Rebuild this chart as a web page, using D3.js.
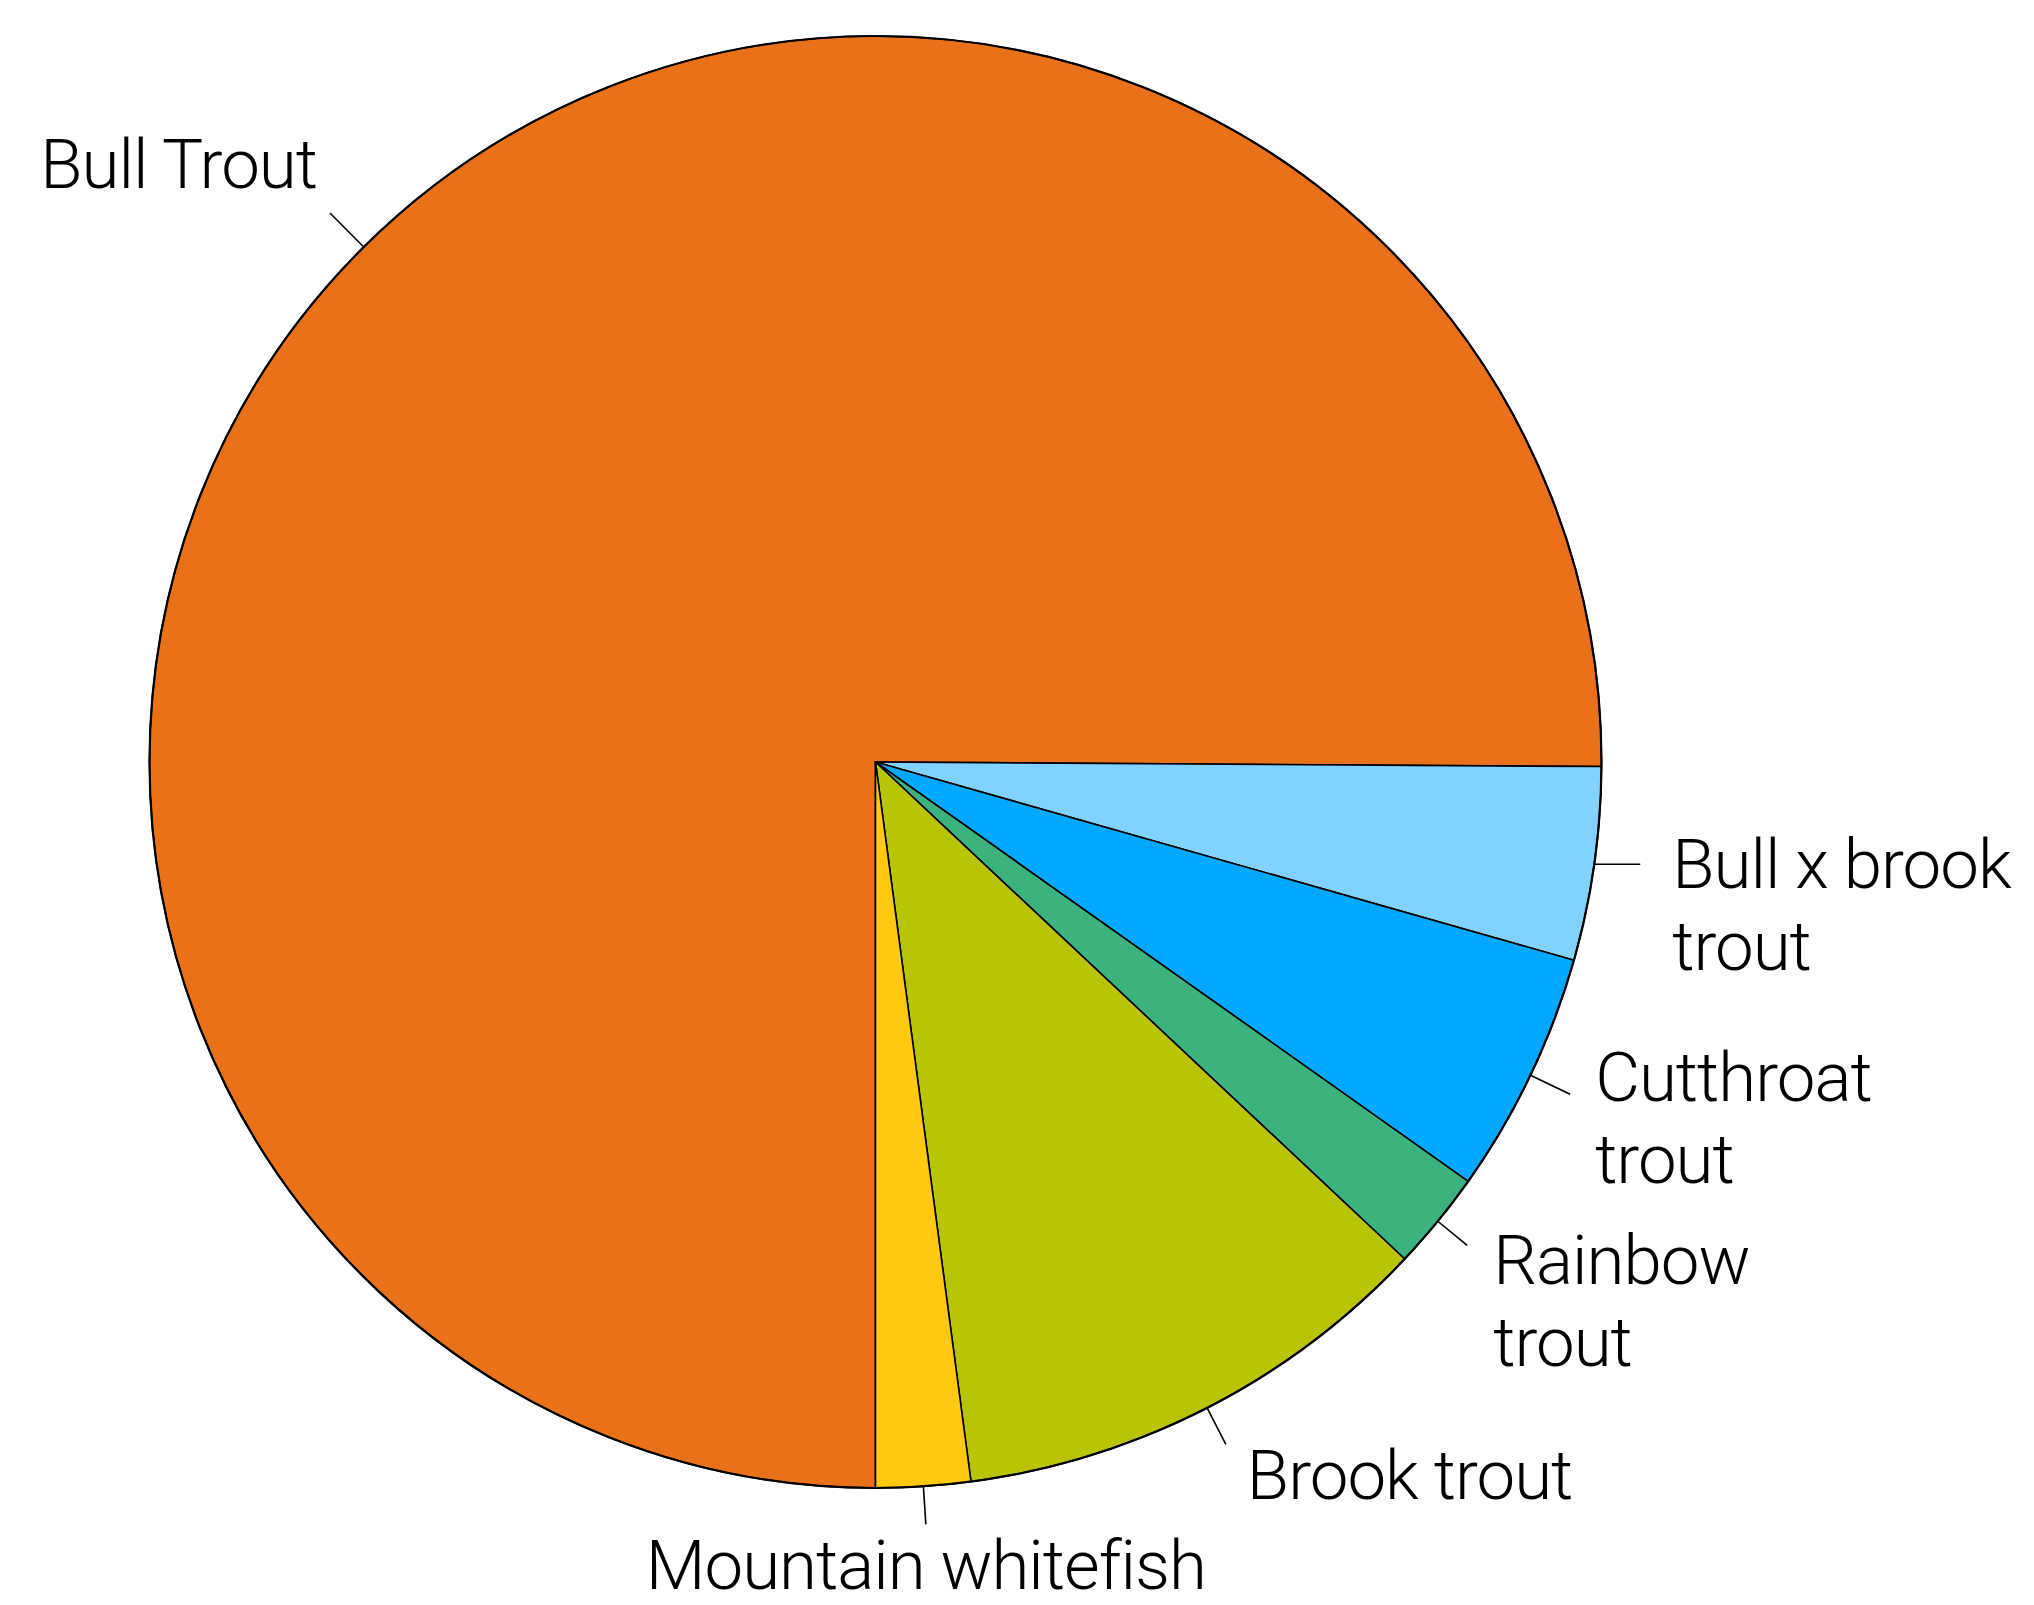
<!DOCTYPE html>
<html>
<head>
<meta charset="utf-8">
<script src="https://cdn.jsdelivr.net/npm/d3@7"></script>
<style>
  html, body { margin: 0; padding: 0; background: #fff; }
  svg { display: block; }
  text { font-family: Roboto, "Liberation Sans", sans-serif; font-weight: 300; }
</style>
</head>
<body>
<script>
// ---- data ----
const categories = ["Bull Trout", "Bull x brook trout", "Cutthroat trout", "Rainbow trout", "Brook trout", "Mountain whitefish"];
const values = [75.1, 4.3, 5.4, 2.2, 10.9, 2.1];
const colors = ["#E8711A", "#82D2FF", "#00A8FF", "#3CB37F", "#B9C405", "#FEC90F"];
const labelLines = [["Bull Trout"], ["Bull x brook", "trout"], ["Cutthroat", "trout"], ["Rainbow", "trout"], ["Brook trout"], ["Mountain whitefish"]];

// ---- layout (styling only) ----
const W = 2034, H = 1605;
const cx = 875.5, cy = 762, R = 726;
const fontSize = 69, lineH = 82;
const leaderLayout = [
  { len: 48, horiz: false, dx: -13, dy: -25, anchor: "end" },
  { len: 46, horiz: true,  dx: 32,  dy: 24,  anchor: "start" },
  { len: 44, horiz: false, dx: 25,  dy: 7,   anchor: "start" },
  { len: 38, horiz: false, dx: 26,  dy: 39,  anchor: "start" },
  { len: 41, horiz: false, dx: 21,  dy: 55,  anchor: "start" },
  { len: 38, horiz: false, dx: 0,   dy: 65,  anchor: "middle" }
];

const svg = d3.select("body").append("svg").attr("width", W).attr("height", H);
const g = svg.append("g").attr("transform", `translate(${cx},${cy})`);

const data = categories.map((c, i) => ({ name: c, value: values[i], color: colors[i], lines: labelLines[i], lay: leaderLayout[i] }));

const pie = d3.pie().sort(null).value(d => d.value).startAngle(Math.PI).endAngle(3 * Math.PI);
const arc = d3.arc().innerRadius(0).outerRadius(R);
const arcs = pie(data);

g.selectAll("path.slice").data(arcs).join("path")
  .attr("class", "slice")
  .attr("d", arc)
  .attr("fill", d => d.data.color)
  .attr("stroke", "#000")
  .attr("stroke-width", 1.6)
  .attr("stroke-linejoin", "round");

g.append("circle").attr("r", R).attr("fill", "none").attr("stroke", "#000").attr("stroke-width", 2.2);

arcs.forEach(d => {
  const a = (d.startAngle + d.endAngle) / 2;
  const sx = R * Math.sin(a), sy = -R * Math.cos(a);
  const lay = d.data.lay;
  let ex, ey;
  if (lay.horiz) { ex = sx + lay.len; ey = sy; }
  else { ex = (R + lay.len) * Math.sin(a); ey = -(R + lay.len) * Math.cos(a); }
  g.append("line").attr("x1", sx).attr("y1", sy).attr("x2", ex).attr("y2", ey)
    .attr("stroke", "#000").attr("stroke-width", 1.6);
  const t = g.append("text")
    .attr("x", ex + lay.dx).attr("y", ey + lay.dy)
    .attr("text-anchor", lay.anchor)
    .attr("font-size", fontSize)
    .attr("letter-spacing", "-1px")
    .attr("fill", "#000");
  d.data.lines.forEach((ln, i) => {
    t.append("tspan").attr("x", ex + lay.dx).attr("dy", i === 0 ? 0 : lineH).text(ln);
  });
});
</script>
</body>
</html>
